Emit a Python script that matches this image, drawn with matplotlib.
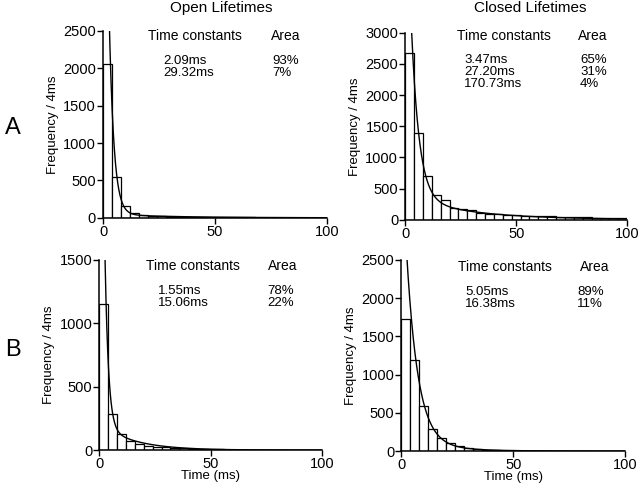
import matplotlib
matplotlib.use("Agg")
import matplotlib.pyplot as plt
import numpy as np

plt.rcParams['font.family'] = ['Liberation Sans', 'DejaVu Sans']

# histogram bins: 4 ms wide, 0..100 ms
bin_width = 4
bin_edges = np.arange(0, 101, bin_width)

open_a = [2060, 550, 160, 65, 40, 25, 18, 14, 12, 10, 9, 8, 7, 6, 6,
          5, 5, 4, 4, 3, 3, 3, 2, 2, 2]
closed_a = [2680, 1390, 710, 405, 310, 190, 175, 150, 110, 95, 85, 80, 72,
            68, 62, 58, 55, 50, 46, 42, 40, 36, 33, 30, 28]
open_b = [1150, 287, 124, 76, 47, 34, 28, 22, 17, 14, 11, 12, 8, 6, 5,
          4, 4, 3, 3, 3, 2, 2, 2, 2, 1]
closed_b = [1730, 1190, 590, 292, 172, 107, 65, 42, 28, 18, 12, 8, 6, 4,
            3, 2, 2, 2, 1, 1, 1, 1, 1, 1, 1]

# fitted exponential components (ms, fraction) as printed on the figure
taus_open_a = [2.09, 29.32]
areas_open_a = [0.93, 0.07]
taus_closed_a = [3.47, 27.20, 170.73]
areas_closed_a = [0.65, 0.31, 0.04]
taus_open_b = [1.55, 15.06]
areas_open_b = [0.78, 0.22]
taus_closed_b = [5.05, 16.38]
areas_closed_b = [0.89, 0.11]

# number of events used to scale the fitted curve
n_open_a = 5500
n_closed_a = 8300
n_open_b = 3600
n_closed_b = 5600

yticks_open_a = [0, 500, 1000, 1500, 2000, 2500]
yticks_closed_a = [0, 500, 1000, 1500, 2000, 2500, 3000]
yticks_open_b = [0, 500, 1000, 1500]
yticks_closed_b = [0, 500, 1000, 1500, 2000, 2500]

tau_labels_open_a = ["2.09ms", "29.32ms"]
pct_labels_open_a = ["93%", "7%"]
tau_labels_closed_a = ["3.47ms", "27.20ms", "170.73ms"]
pct_labels_closed_a = ["65%", "31%", "4%"]
tau_labels_open_b = ["1.55ms", "15.06ms"]
pct_labels_open_b = ["78%", "22%"]
tau_labels_closed_b = ["5.05ms", "16.38ms"]
pct_labels_closed_b = ["89%", "11%"]

fig = plt.figure(figsize=(6.4, 4.83), dpi=100)


def panel(rect, counts, taus, areas, n_events, yticks, tau_labels, pct_labels,
          table_pos, xlabel=False):
    # table_pos: header x, area header x, value x, pct x, header y, first row y
    hx, ax_area, vx, px, hy, vy = table_pos
    ax = fig.add_axes(rect)
    ax.bar(bin_edges[:-1], counts, width=bin_width, align='edge',
           facecolor='white', edgecolor='black', linewidth=0.9)
    t = np.linspace(0.05, 100, 800)
    dens = sum(a / tau * np.exp(-t / tau) for tau, a in zip(taus, areas))
    ax.plot(t, n_events * bin_width * dens, color='black', linewidth=1.0)
    ax.set_xlim(0, 100)
    ax.set_ylim(0, yticks[-1])
    ax.set_xticks([0, 50, 100])
    ax.set_yticks(yticks)
    for s in ['top', 'right']:
        ax.spines[s].set_visible(False)
    for s in ['left', 'bottom']:
        ax.spines[s].set_linewidth(1.1)
    ax.tick_params(direction='out', length=4, width=1.0, labelsize=10.5,
                   pad=1)
    ax.set_ylabel("Frequency / 4ms", fontsize=9.5, labelpad=3)
    if xlabel:
        ax.set_xlabel("Time (ms)", fontsize=9.5, labelpad=-1)
    # fit parameter table
    ax.text(hx, hy, "Time constants", transform=ax.transAxes,
            fontsize=10, va='center', ha='left')
    ax.text(ax_area, hy, "Area", transform=ax.transAxes,
            fontsize=10, va='center', ha='left')
    for i, (tl, pl) in enumerate(zip(tau_labels, pct_labels)):
        yy = vy - i * 0.064
        ax.text(vx, yy, tl, transform=ax.transAxes, fontsize=9.5,
                va='center', ha='left')
        ax.text(px, yy, pl, transform=ax.transAxes, fontsize=9.5,
                va='center', ha='left')
    return ax


panel([0.161, 0.549, 0.350, 0.387], open_a, taus_open_a, areas_open_a,
      n_open_a, yticks_open_a, tau_labels_open_a, pct_labels_open_a,
      (0.20, 0.75, 0.268, 0.754, 0.973, 0.84))
panel([0.633, 0.545, 0.347, 0.387], closed_a, taus_closed_a, areas_closed_a,
      n_closed_a, yticks_closed_a, tau_labels_closed_a, pct_labels_closed_a,
      (0.233, 0.779, 0.266, 0.788, 0.985, 0.856))
panel([0.155, 0.068, 0.348, 0.394], open_b, taus_open_b, areas_open_b,
      n_open_b, yticks_open_b, tau_labels_open_b, pct_labels_open_b,
      (0.211, 0.758, 0.265, 0.753, 0.968, 0.838), xlabel=True)
panel([0.627, 0.066, 0.350, 0.396], closed_b, taus_closed_b, areas_closed_b,
      n_closed_b, yticks_closed_b, tau_labels_closed_b, pct_labels_closed_b,
      (0.253, 0.799, 0.286, 0.786, 0.965, 0.834), xlabel=True)

fig.text(221 / 640, 1 - 8 / 483, "Open Lifetimes", fontsize=11,
         ha='center', va='center')
fig.text(530 / 640, 1 - 8 / 483, "Closed Lifetimes", fontsize=11,
         ha='center', va='center')
fig.text(13 / 640, 1 - 128 / 483, "A", fontsize=17, ha='center', va='center')
fig.text(13 / 640, 1 - 350 / 483, "B", fontsize=17, ha='center', va='center')

fig.savefig("out.png", dpi=100, facecolor='white')
